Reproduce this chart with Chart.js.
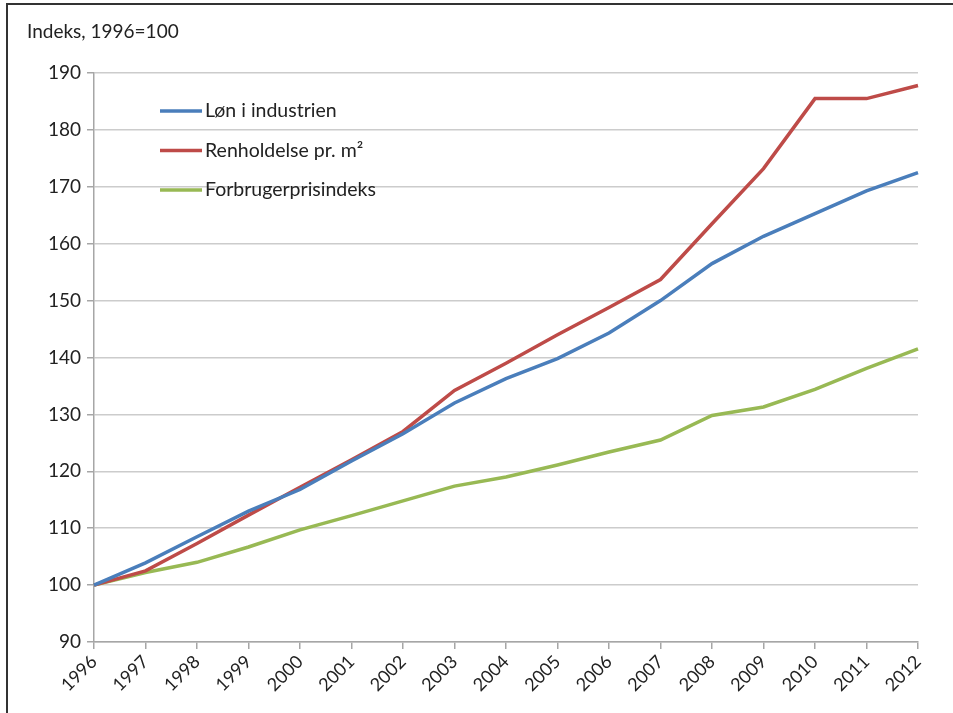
<!DOCTYPE html>
<html>
<head>
<meta charset="utf-8">
<script src="https://cdn.jsdelivr.net/npm/chart.js@4"></script>
<style>
  html, body { margin: 0; padding: 0; background: #fff; overflow: hidden; }
  #frame { position: absolute; left: 6px; top: 3px; width: 1000px; height: 800px;
           border-left: 2px solid #333; border-top: 2px solid #333; }
  #wrap { position: absolute; left: 0; top: 0; width: 953px; height: 713px; }
</style>
</head>
<body>
<div id="frame"></div>
<div id="wrap"><canvas id="myChart" width="953" height="713"></canvas></div>
<script>
const years = ["1996", "1997", "1998", "1999", "2000", "2001", "2002", "2003", "2004",
               "2005", "2006", "2007", "2008", "2009", "2010", "2011", "2012"];
const lonIndustrien = [100, 103.9, 108.5, 113.0, 116.8, 121.8, 126.6, 132.0, 136.3,
                       139.8, 144.3, 150.0, 156.5, 161.3, 165.3, 169.3, 172.5];
const renholdelse = [100, 102.5, 107.3, 112.3, 117.2, 122.0, 127.0, 134.2, 139.0,
                     144.0, 148.8, 153.7, 163.5, 173.2, 185.5, 185.5, 187.8];
const forbrugerpris = [100, 102.2, 104.0, 106.7, 109.7, 112.2, 114.8, 117.4, 119.0,
                       121.1, 123.4, 125.5, 129.8, 131.3, 134.4, 138.1, 141.5];
const seriesNames = ["Løn i industrien", "Renholdelse pr. m²", "Forbrugerprisindeks"];
const seriesColors = ["#4A7EBB", "#BE4B48", "#98B954"];
const yMin = 90, yMax = 190, yStep = 10;

const fontFamily = "Lato, 'Open Sans', sans-serif";

// legend drawn inside the plot area, like the original
const innerLegend = {
  id: "innerLegend",
  afterDraw(chart) {
    const ctx = chart.ctx;
    ctx.save();
    ctx.font = "19.5px " + fontFamily;
    ctx.textBaseline = "middle";
    chart.data.datasets.forEach((ds, i) => {
      const y = 111 + i * 39.5;
      ctx.strokeStyle = ds.borderColor;
      ctx.lineWidth = 3.5;
      ctx.beginPath();
      ctx.moveTo(160, y);
      ctx.lineTo(202, y);
      ctx.stroke();
      ctx.fillStyle = "#222";
      ctx.fillText(ds.label, 205, y);
    });
    // axis title at top left
    ctx.font = "19px " + fontFamily;
    ctx.fillText("Indeks, 1996=100", 27, 32);
    ctx.restore();
  }
};

new Chart("myChart", {
  type: "line",
  data: {
    labels: years,
    datasets: [
      { label: seriesNames[0], data: lonIndustrien, borderColor: seriesColors[0] },
      { label: seriesNames[1], data: renholdelse, borderColor: seriesColors[1] },
      { label: seriesNames[2], data: forbrugerpris, borderColor: seriesColors[2] }
    ].map(d => Object.assign(d, { borderWidth: 3.5, pointRadius: 0, tension: 0, fill: false }))
  },
  options: {
    responsive: false,
    animation: false,
    layout: { padding: { left: 0, right: 35, top: 73, bottom: 0 } },
    plugins: {
      legend: { display: false },
      tooltip: { enabled: false }
    },
    scales: {
      x: {
        offset: false,
        grid: { display: true, drawOnChartArea: false, tickLength: 7, color: "#a6a6a6", lineWidth: 1.5 },
        border: { color: "#a6a6a6", width: 1.5 },
        ticks: {
          color: "#222", font: { family: fontFamily, size: 18 },
          minRotation: 45, maxRotation: 45, autoSkip: false, padding: 2
        },
        afterFit(scale) { scale.height = 71; }
      },
      y: {
        min: yMin, max: yMax,
        grid: { color: "#cccccc", lineWidth: 1.5, tickLength: 7, tickColor: "#a6a6a6" },
        border: { color: "#a6a6a6", width: 1.5 },
        ticks: { stepSize: yStep, color: "#222", font: { family: fontFamily, size: 19 }, padding: 6 },
        afterFit(scale) { scale.width = 94; }
      }
    }
  },
  plugins: [innerLegend]
});
</script>
</body>
</html>
